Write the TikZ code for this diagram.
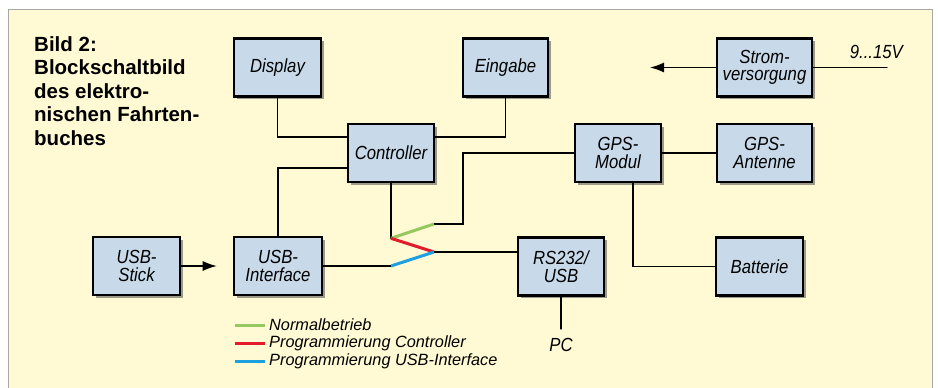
\documentclass[tikz,border=0pt]{standalone}
\usepackage{fontspec}
\setmainfont{Liberation Sans}
\newfontfamily\condfont[FakeStretch=0.88]{Liberation Sans}
\usepackage{tikz}
\usetikzlibrary{arrows.meta,shadows}
\definecolor{paper}{RGB}{255,250,212}
\definecolor{boxblue}{RGB}{200,218,234}
\definecolor{normgreen}{RGB}{150,200,95}
\definecolor{progred}{RGB}{226,28,42}
\definecolor{progblue}{RGB}{28,160,226}

\begin{document}
\begin{tikzpicture}[x=1pt,y=-1pt,line cap=round,
    block/.style={draw=black,line width=2.6pt,fill=boxblue,minimum width=87pt,minimum height=58pt,
      align=center,inner sep=2pt,font=\condfont\fontsize{19}{17.5}\selectfont\itshape,
      drop shadow={shadow xshift=2.5pt,shadow yshift=-2.5pt,fill=black!70,opacity=.55}},
    wire/.style={line width=1.3pt},
    path/.style={line width=3pt,line cap=butt},
    label/.style={font=\condfont\fontsize{19}{19}\selectfont\itshape},
    legend/.style={anchor=west,inner sep=0pt,font=\fontsize{16.3}{16.3}\selectfont\itshape}]
  % block diagram of the electronic logbook on a pale paper panel
  \useasboundingbox (0,0) rectangle (938,388);
  \fill[white] (0,0) rectangle (938,388);
  \fill[paper] (8,9) rectangle (932,388);
  \draw[gray!70,line width=0.8pt] (8,388) -- (8,9) -- (932,9) -- (932,388);

  \node[anchor=north west,inner sep=0pt,align=left,font=\fontsize{20.5}{23.5}\selectfont\bfseries] (title) at (34,36)
    {Bild 2:\\Blockschaltbild\\des elektro-\\nischen Fahrten-\\buches};

  \node[block] (disp)  at (277.5,67.5) {Display};
  \node[block,minimum width=85pt] (eing) at (505.5,67.5) {Eingabe};
  \node[block,minimum width=95pt] (strom) at (764.5,67.5) {Strom-\\versorgung};
  \node[block,minimum width=86pt] (ctrl) at (391,153) {Controller};
  \node[block,minimum width=86pt] (gps)  at (618,153) {GPS-\\Modul};
  \node[block,minimum width=95pt] (ant)  at (764.5,153) {GPS-\\Antenne};
  \node[block] (stick) at (136.5,266) {USB-\\Stick};
  \node[block,minimum width=88pt] (usbif) at (278,266) {USB-\\Interface};
  \node[block,minimum width=86pt] (rs)   at (561,266.5) {RS232/\\USB};
  \node[block] (bat)   at (759.5,266.5) {Batterie};

  % wiring round the controller
  \draw[wire] (disp.south) |- ([yshift=16pt]ctrl.west);
  \draw[wire] (eing.south) |- ([yshift=16pt]ctrl.east);
  \draw[wire] ([yshift=-15pt]ctrl.west) -| (usbif.north);
  \draw[wire] (gps.east) -- (ant.west);
  \draw[wire] ([xshift=15pt]gps.south) |- (bat.west);

  % the switch between controller, USB interface and RS232/USB
  \coordinate (sw) at ([yshift=-55pt]ctrl.south);
  \coordinate (jg) at (434,224);
  \coordinate (jr) at (434,252);
  \coordinate (bl) at (sw |- usbif.east);
  \draw[wire] (ctrl.south) -- (sw);
  \draw[wire] (jg) -- (463,224) |- (gps.west);
  \draw[wire] (usbif.east) -- (bl);
  \draw[wire] (jr) -- (jr -| rs.west);
  \draw[path,normgreen] (sw) -- (jg);
  \draw[path,progred] (sw) -- (jr);
  \draw[path,progblue] (bl) -- (jr);

  % outer connections
  \coordinate (pc) at (561,329);
  \draw[wire] (rs.south) -- (pc);
  \node[label] (pclabel) at (561,345) {PC};
  \coordinate (vin) at (887,67.5);
  \draw[wire] (strom.east) -- (vin);
  \node[label,anchor=south east,inner sep=1pt] (vlabel) at (904,60) {9...15V};
  \draw[wire,-{Latex[length=14pt,width=10pt]}] (strom.west) -- (650,67.5);
  \draw[wire,-{Latex[length=14pt,width=10pt]}] (stick.east) -- ([xshift=-16pt]usbif.west);

  % legend
  \foreach \c/\txt [count=\i] in {normgreen/Normalbetrieb,progred/Programmierung Controller,progblue/Programmierung USB-Interface}{
    \draw[path,\c] (235,{307+18*\i}) -- (265,{307+18*\i});
    \node[legend] (leg\i) at (269,{307+18*\i}) {\txt};
  }
\end{tikzpicture}
\end{document}
